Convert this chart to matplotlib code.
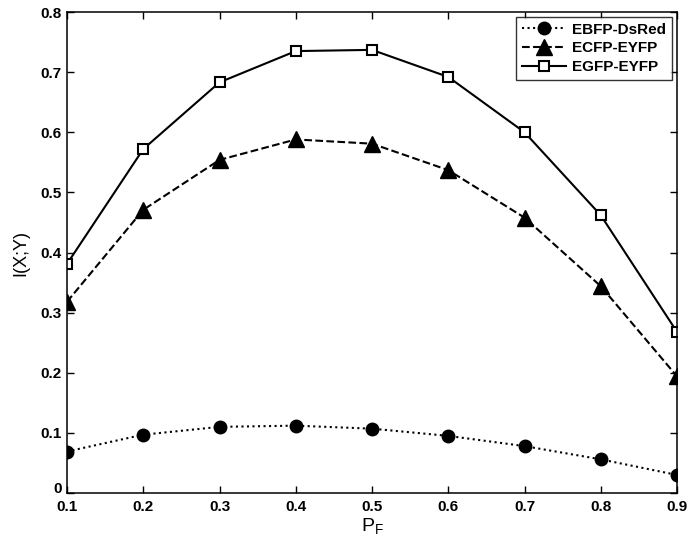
import matplotlib.pyplot as plt
from matplotlib.transforms import ScaledTranslation

plt.rcParams["font.family"] = ["Liberation Sans", "DejaVu Sans"]

p_f = [0.1, 0.2, 0.3, 0.4, 0.5, 0.6, 0.7, 0.8, 0.9]
ebfp_dsred = [0.069, 0.097, 0.110, 0.112, 0.107, 0.095, 0.078, 0.056, 0.030]
ecfp_eyfp = [0.318, 0.471, 0.554, 0.588, 0.581, 0.537, 0.458, 0.344, 0.194]
egfp_eyfp = [0.381, 0.572, 0.683, 0.735, 0.737, 0.692, 0.600, 0.462, 0.268]
labels = ["EBFP-DsRed", "ECFP-EYFP", "EGFP-EYFP"]
y_ticks = [0, 0.1, 0.2, 0.3, 0.4, 0.5, 0.6, 0.7, 0.8]

fig = plt.figure(figsize=(6.87, 5.43), dpi=100)
ax = fig.add_axes([67 / 687, 50 / 543, 610 / 687, 481 / 543])

ax.plot(p_f, ebfp_dsred, linestyle=":", color="black", linewidth=1.5,
        marker="o", markersize=9, markerfacecolor="black", label=labels[0])
ax.plot(p_f, ecfp_eyfp, linestyle="--", color="black", linewidth=1.5,
        marker="^", markersize=11, markerfacecolor="black", label=labels[1])
ax.plot(p_f, egfp_eyfp, linestyle="-", color="black", linewidth=1.5,
        marker="s", markersize=7, markerfacecolor="white",
        markeredgewidth=1.5, label=labels[2])

ax.set_xlim(0.1, 0.9)
ax.set_ylim(0, 0.8)
ax.set_xticks(p_f)
ax.set_yticks(y_ticks)
ax.set_xticklabels([f"{v:g}" for v in p_f])
ax.set_yticklabels([f"{v:g}" for v in y_ticks])
ax.tick_params(direction="in", top=True, right=True, length=5, width=1,
               labelsize=11, pad=4)
for lbl in ax.get_xticklabels() + ax.get_yticklabels():
    lbl.set_fontweight("bold")
for spine in ax.spines.values():
    spine.set_linewidth(1.1)

# lift the "0" a little so it does not run into "0.1" below
zero = ax.get_yticklabels()[0]
zero.set_transform(zero.get_transform() + ScaledTranslation(0, 4 / 72, fig.dpi_scale_trans))
for lbl in ax.get_xticklabels():
    lbl.set_transform(lbl.get_transform() + ScaledTranslation(0, -1 / 72, fig.dpi_scale_trans))

ax.set_xlabel("P$_\\mathregular{F}$", fontsize=14, labelpad=2)
ax.set_ylabel("I(X;Y)", fontsize=13, labelpad=8)

leg = ax.legend(loc="upper right", prop={"weight": "bold", "size": 11},
                frameon=True, fancybox=False, edgecolor="black",
                handlelength=2.9, borderaxespad=0.3, labelspacing=0.3,
                handletextpad=0.4)
leg.get_frame().set_linewidth(1.0)

fig.savefig("out.png", dpi=100)
